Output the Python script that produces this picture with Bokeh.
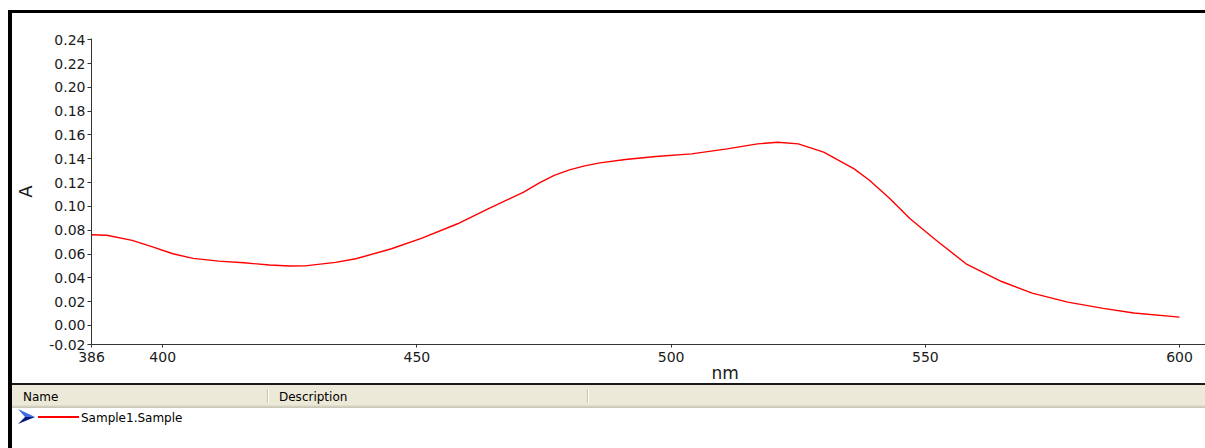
from bokeh.plotting import figure
from bokeh.models import FixedTicker, Range1d, Title, ColumnDataSource, Div
from bokeh.layouts import row, column
from bokeh.embed import file_html
from bokeh.resources import INLINE

# ---------------- data ----------------
wavelength_nm = [386, 389, 394, 398, 402, 406, 411, 416, 421, 425, 428, 431, 434, 438,
                 445, 451, 458, 464, 471, 474, 477, 480, 483, 486, 491, 497, 504, 511,
                 517, 521, 525, 530, 536, 539, 543, 547, 552, 558, 565, 571, 578, 585,
                 591, 600]
absorbance = [0.0762, 0.0758, 0.0714, 0.0660, 0.0602, 0.0563, 0.0540, 0.0526, 0.0508,
              0.0499, 0.0500, 0.0515, 0.0530, 0.0560, 0.0644, 0.0733, 0.0854, 0.0980,
              0.1120, 0.1195, 0.1260, 0.1307, 0.1340, 0.1365, 0.1394, 0.1419, 0.1441,
              0.1483, 0.1525, 0.1539, 0.1525, 0.1455, 0.1315, 0.1220, 0.1066, 0.0896,
              0.0720, 0.0518, 0.0369, 0.0272, 0.0196, 0.0143, 0.0104, 0.0070]

x_ticks = [386, 400, 450, 500, 550, 600]
y_ticks = [-0.016, 0.0, 0.02, 0.04, 0.06, 0.08, 0.10, 0.12, 0.14, 0.16, 0.18, 0.20, 0.22, 0.24]
y_labels = ["-0.02", "0.00", "0.02", "0.04", "0.06", "0.08", "0.10", "0.12", "0.14",
            "0.16", "0.18", "0.20", "0.22", "0.24"]
x_title = "nm"
y_title = "A"
series_name = "Sample1.Sample"
col_headers = ["Name", "Description"]

FONT = "DejaVu Sans"
PAGE_W, PAGE_H = 1205, 448
BAR_W = 12
MAIN_W = PAGE_W - BAR_W
TOP_H = 13
CHART_H = 370
PANEL_H = PAGE_H - TOP_H - CHART_H

# ---- window frame: top rule and left bar ----
top = Div(text="", width=PAGE_W, height=TOP_H, margin=0,
          styles={"background": "linear-gradient(#000,#000) 8px 10px / 1197px 3px no-repeat #fff"})
bar = Div(text="", width=BAR_W, height=CHART_H, margin=0,
          styles={"background": "linear-gradient(#000,#000) 8px 0px / 4px 100% no-repeat #fff"})

# ---- the chart ----
p = figure(width=MAIN_W, height=CHART_H, output_backend="svg", toolbar_location=None,
           x_range=Range1d(386, 605.1), y_range=Range1d(-0.016, 0.241),
           min_border_left=76, min_border_right=0, min_border_top=25, min_border_bottom=39,
           background_fill_color="white", border_fill_color="white")
p.outline_line_color = None
p.grid.grid_line_color = None

src = ColumnDataSource(dict(x=wavelength_nm, y=absorbance))
p.line("x", "y", source=src, line_color="#ff0000", line_width=1.4)

for ax in (p.xaxis[0], p.yaxis[0]):
    ax.axis_line_color = "#333333"
    ax.major_tick_line_color = "#333333"
    ax.minor_tick_line_color = None
    ax.major_tick_in = 0
    ax.major_label_text_font = FONT
    ax.major_label_text_font_size = "14px"
    ax.major_label_text_color = "#1a1a1a"

p.xaxis.ticker = FixedTicker(ticks=x_ticks)
p.xaxis.major_tick_out = 3
p.xaxis.major_label_standoff = 4

p.yaxis.ticker = FixedTicker(ticks=y_ticks)
p.yaxis.major_label_overrides = dict(zip(y_ticks, y_labels))
p.yaxis.major_tick_out = 4
p.yaxis.major_label_standoff = 2
p.yaxis.axis_label = y_title
p.yaxis.axis_label_text_font = FONT
p.yaxis.axis_label_text_font_size = "18px"
p.yaxis.axis_label_text_font_style = "normal"
p.yaxis.axis_label_text_color = "#1a1a1a"
p.yaxis.axis_label_standoff = 10

p.add_layout(Title(text=x_title, align="left", offset=620, standoff=-7,
                   text_font=FONT, text_font_size="17px", text_font_style="normal",
                   text_color="#1a1a1a"), "below")

# ---- list panel below the chart ----
def blk(l, t, w, h, c):
    return (f'<div style="position:absolute;left:{l}px;top:{t}px;width:{w}px;'
            f'height:{h}px;background:{c}"></div>')


def txt(l, t, s):
    return (f'<div style="position:absolute;left:{l}px;top:{t}px;line-height:14px;'
            f'white-space:nowrap">{s}</div>')


parts = [
    blk(8, 0, 4, PANEL_H, "#000"),
    blk(12, 0, 1193, 2, "#1a1a1a"),
    blk(12, 2, 1193, 20, "#ECE9D8"),
    blk(12, 22, 1193, 1, "#E2DECD"),
    blk(12, 23, 1193, 1, "#D6D2C2"),
    blk(12, 24, 1193, 1, "#CBC7B8"),
    blk(267, 6, 1, 14, "#C7C5B2"), blk(268, 6, 1, 14, "#FFFFFF"),
    blk(587, 6, 1, 14, "#C7C5B2"), blk(588, 6, 1, 14, "#FFFFFF"),
    txt(23, 7, col_headers[0]),
    txt(279, 7, col_headers[1]),
    ('<svg style="position:absolute;left:18px;top:26px" width="17" height="15">'
     '<polygon points="0,0 17,8 7,8" fill="#3d6be0"/>'
     '<polygon points="7,8 17,8 0,15" fill="#0b1a7a"/></svg>'),
    blk(38, 33, 41, 2, "#ff0000"),
    txt(81, 28, series_name),
]
panel_html = (f'<div style="position:relative;display:block;width:{PAGE_W}px;height:{PANEL_H}px;'
              f'font-family:\'{FONT}\';font-size:12px;color:#000;background:#fff;overflow:hidden">'
              + "".join(parts) + "</div>")
panel = Div(text=panel_html, width=PAGE_W, height=PANEL_H, margin=0)

layout = column(top, row(bar, p, spacing=0), panel, spacing=0)
open("out.html", "w").write(file_html(layout, INLINE))
